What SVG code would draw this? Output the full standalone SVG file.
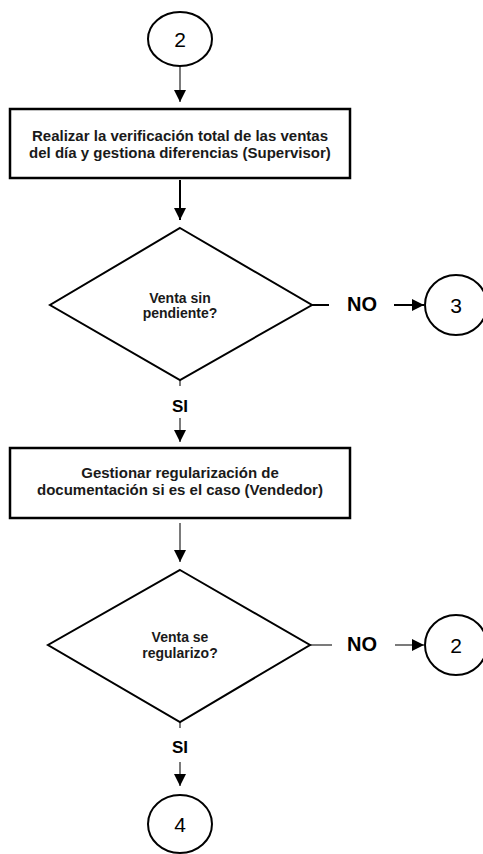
<svg xmlns="http://www.w3.org/2000/svg" width="483" height="854" viewBox="0 0 483 854">
  <style>
    .shape { fill: #fff; stroke: #000; stroke-width: 2.5; }
    .conn { fill: none; stroke: #333; stroke-width: 1.3; }
    .txt { font-family: "Liberation Sans", Arial, sans-serif; fill: #1a1a1a; text-anchor: middle; }
    .box { font-size: 15px; font-weight: bold; }
    .dec { font-size: 14px; font-weight: bold; }
    .lbl { font-size: 17px; font-weight: bold; fill: #000; }
    .no { font-size: 20px; }
    .num { font-size: 21px; fill: #000; }
  </style>
  <defs>
    <marker id="arrowL" viewBox="0 0 12 12" refX="12" refY="6" markerWidth="12" markerHeight="12" markerUnits="userSpaceOnUse" orient="auto">
      <path d="M0,0 L12,6 L0,12 Z" fill="#000"/>
    </marker>
  </defs>

  <!-- connectors -->
  <g id="connectors">
    <line class="conn" x1="180" y1="66" x2="180" y2="102" marker-end="url(#arrowL)"/>
    <line class="conn" x1="180" y1="180" x2="180" y2="220" marker-end="url(#arrowL)" style="stroke:#000;stroke-width:2"/>
    <line class="conn" x1="180" y1="380" x2="180" y2="386"/>
    <line class="conn" x1="180" y1="418" x2="180" y2="442" marker-end="url(#arrowL)"/>
    <line class="conn" x1="180" y1="523" x2="180" y2="562" marker-end="url(#arrowL)"/>
    <line class="conn" x1="180" y1="722" x2="180" y2="728"/>
    <line class="conn" x1="180" y1="762" x2="180" y2="786" marker-end="url(#arrowL)"/>
    <line class="conn" x1="312" y1="305" x2="329" y2="305" style="stroke:#000;stroke-width:2"/>
    <line class="conn" x1="394" y1="305" x2="424" y2="305" marker-end="url(#arrowL)" style="stroke:#000;stroke-width:2"/>
    <line class="conn" x1="310" y1="645" x2="332" y2="645"/>
    <line class="conn" x1="395" y1="645" x2="424" y2="645" marker-end="url(#arrowL)"/>
    <text class="txt lbl no" x="362" y="311">NO</text>
    <text class="txt lbl" x="180" y="412">SI</text>
    <text class="txt lbl no" x="362" y="651">NO</text>
    <text class="txt lbl" x="180" y="753">SI</text>
  </g>

  <g id="ref-top">
    <ellipse class="shape" cx="180" cy="39" rx="32" ry="27" style="stroke-width:2"/>
    <text class="txt num" x="180" y="46.5">2</text>
  </g>

  <g id="verify">
    <rect class="shape" x="10" y="109" width="340" height="69"/>
    <text class="txt box" x="180" y="141">Realizar la verificación total de las ventas</text>
    <text class="txt box" x="180" y="158">del día y gestiona diferencias (Supervisor)</text>
  </g>

  <g id="check-pending">
    <polygon class="shape" points="180,228 312,305 180,380 50,305" style="stroke-width:2"/>
    <text class="txt dec" x="180" y="303">Venta sin</text>
    <text class="txt dec" x="180" y="318">pendiente?</text>
  </g>

  <g id="ref-3">
    <ellipse class="shape" cx="456" cy="305" rx="31" ry="30" style="stroke-width:2"/>
    <text class="txt num" x="456" y="312.5">3</text>
  </g>

  <g id="regularize">
    <rect class="shape" x="10" y="448" width="340" height="70"/>
    <text class="txt box" x="180" y="478">Gestionar regularización de</text>
    <text class="txt box" x="180" y="495">documentación si es el caso (Vendedor)</text>
  </g>

  <g id="check-regularized">
    <polygon class="shape" points="180,570 310,645 180,722 48,645" style="stroke-width:2"/>
    <text class="txt dec" x="180" y="642">Venta se</text>
    <text class="txt dec" x="180" y="658">regularizo?</text>
  </g>

  <g id="ref-2">
    <ellipse class="shape" cx="456" cy="645" rx="31" ry="30" style="stroke-width:2"/>
    <text class="txt num" x="456" y="652.5">2</text>
  </g>

  <g id="ref-4">
    <ellipse class="shape" cx="180" cy="824" rx="32" ry="29" style="stroke-width:2"/>
    <text class="txt num" x="180" y="831.5">4</text>
  </g>
</svg>
